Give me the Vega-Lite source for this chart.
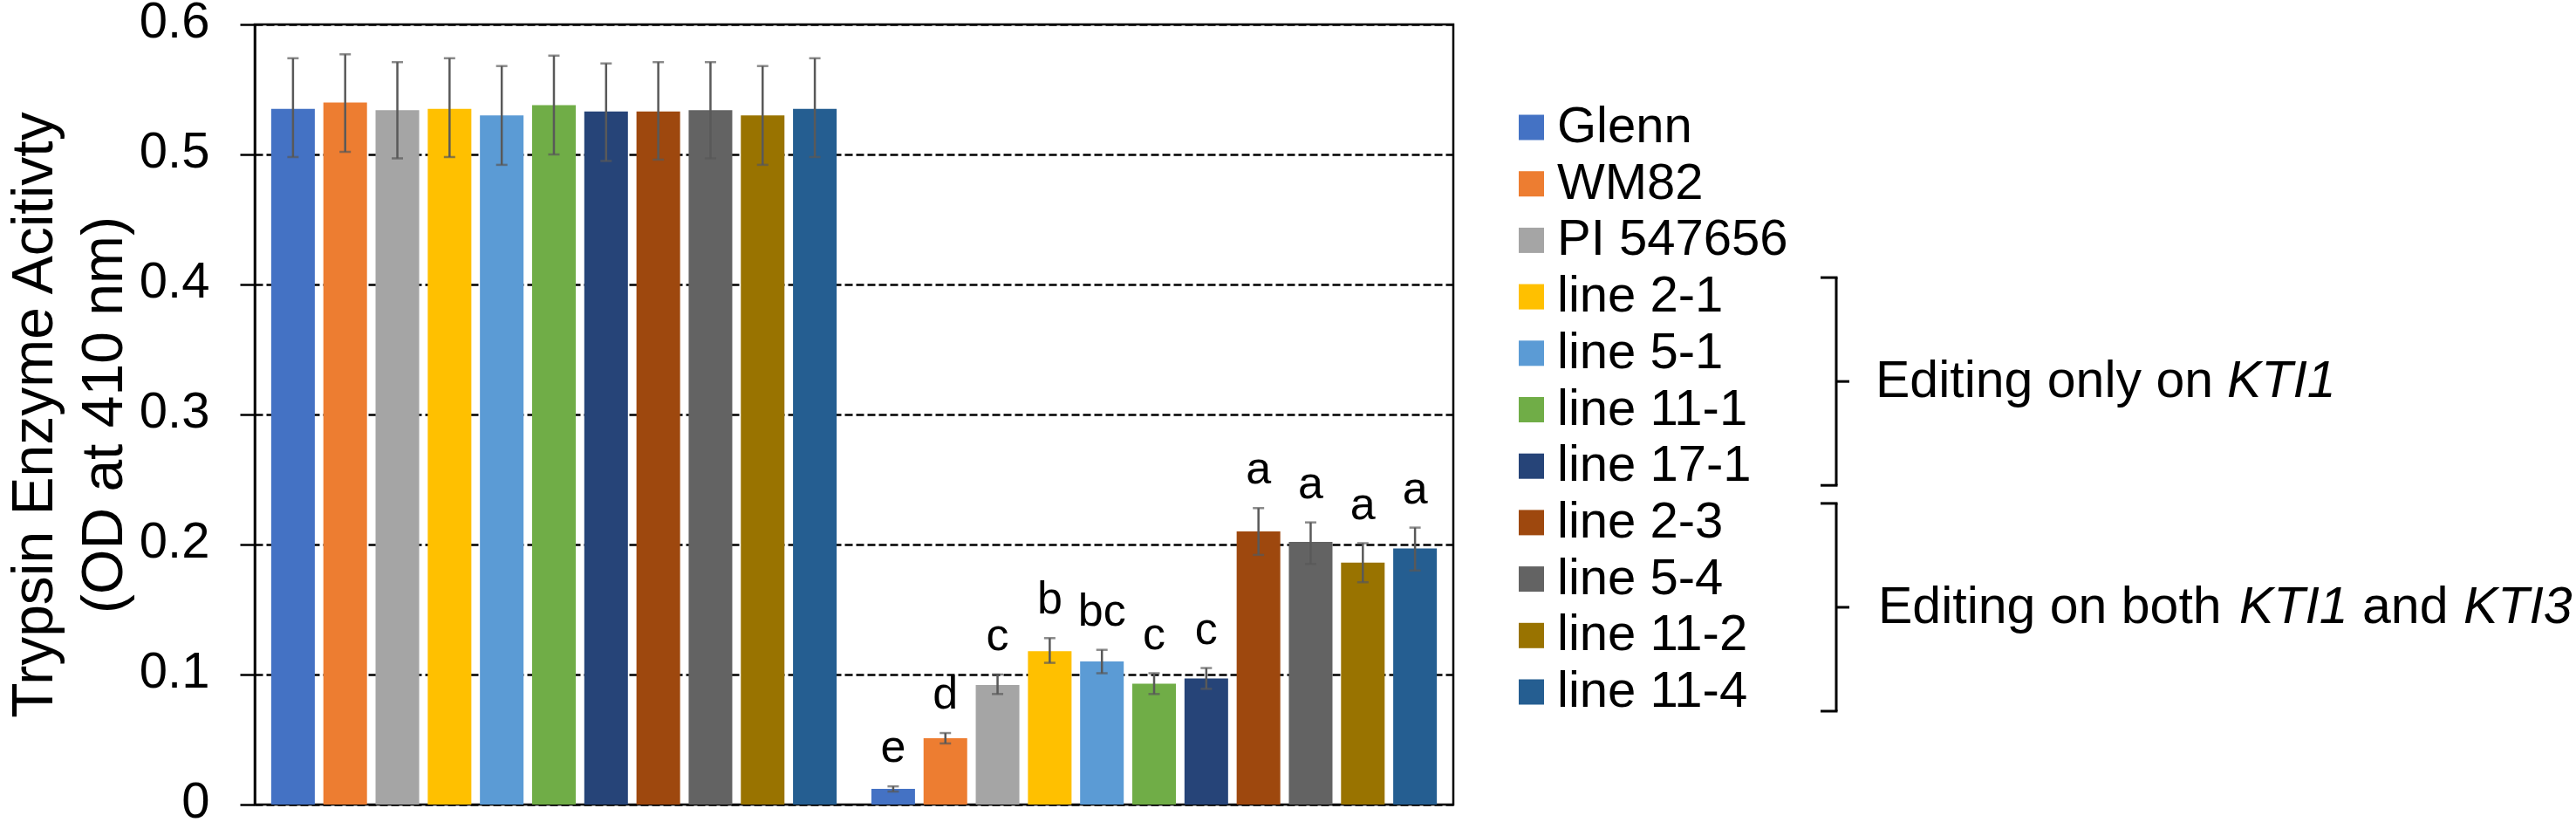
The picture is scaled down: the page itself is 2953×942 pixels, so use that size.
{
  "$schema": "https://vega.github.io/schema/vega-lite/v6.json",
  "background": "white",
  "padding": {"left": 5, "top": -6, "right": 0, "bottom": 0},
  "config": {
    "font": "Liberation Sans",
    "view": {"stroke": "black", "strokeWidth": 2.5}
  },
  "bounds": "flush",
  "spacing": 75,
  "datasets": {
    "bars": [
      {"group": "A", "variety": "Glenn", "mean": 0.535, "lo": 0.498, "hi": 0.574},
      {"group": "A", "variety": "WM82", "mean": 0.540, "lo": 0.502, "hi": 0.577},
      {"group": "A", "variety": "PI 547656", "mean": 0.534, "lo": 0.497, "hi": 0.571},
      {"group": "A", "variety": "line 2-1", "mean": 0.535, "lo": 0.498, "hi": 0.574},
      {"group": "A", "variety": "line 5-1", "mean": 0.530, "lo": 0.492, "hi": 0.568},
      {"group": "A", "variety": "line 11-1", "mean": 0.538, "lo": 0.500, "hi": 0.576},
      {"group": "A", "variety": "line 17-1", "mean": 0.533, "lo": 0.495, "hi": 0.570},
      {"group": "A", "variety": "line 2-3", "mean": 0.533, "lo": 0.496, "hi": 0.571},
      {"group": "A", "variety": "line 5-4", "mean": 0.534, "lo": 0.497, "hi": 0.571},
      {"group": "A", "variety": "line 11-2", "mean": 0.530, "lo": 0.492, "hi": 0.568},
      {"group": "A", "variety": "line 11-4", "mean": 0.535, "lo": 0.498, "hi": 0.574},
      {"group": "B", "variety": "Glenn", "mean": 0.012, "lo": 0.010, "hi": 0.014, "letter": "e"},
      {"group": "B", "variety": "WM82", "mean": 0.051, "lo": 0.047, "hi": 0.055, "letter": "d"},
      {"group": "B", "variety": "PI 547656", "mean": 0.092, "lo": 0.085, "hi": 0.100, "letter": "c"},
      {"group": "B", "variety": "line 2-1", "mean": 0.118, "lo": 0.109, "hi": 0.128, "letter": "b"},
      {"group": "B", "variety": "line 5-1", "mean": 0.110, "lo": 0.101, "hi": 0.119, "letter": "bc"},
      {"group": "B", "variety": "line 11-1", "mean": 0.093, "lo": 0.085, "hi": 0.101, "letter": "c"},
      {"group": "B", "variety": "line 17-1", "mean": 0.097, "lo": 0.089, "hi": 0.105, "letter": "c"},
      {"group": "B", "variety": "line 2-3", "mean": 0.210, "lo": 0.192, "hi": 0.228, "letter": "a"},
      {"group": "B", "variety": "line 5-4", "mean": 0.202, "lo": 0.185, "hi": 0.217, "letter": "a"},
      {"group": "B", "variety": "line 11-2", "mean": 0.186, "lo": 0.171, "hi": 0.201, "letter": "a"},
      {"group": "B", "variety": "line 11-4", "mean": 0.197, "lo": 0.180, "hi": 0.213, "letter": "a"}
    ],
    "legend": [
      {"variety": "Glenn", "rank": 0},
      {"variety": "WM82", "rank": 1},
      {"variety": "PI 547656", "rank": 2},
      {"variety": "line 2-1", "rank": 3},
      {"variety": "line 5-1", "rank": 4},
      {"variety": "line 11-1", "rank": 5},
      {"variety": "line 17-1", "rank": 6},
      {"variety": "line 2-3", "rank": 7},
      {"variety": "line 5-4", "rank": 8},
      {"variety": "line 11-2", "rank": 9},
      {"variety": "line 11-4", "rank": 10}
    ],
    "brackets": [
      {"note": "KTI1 only", "first": 3, "last": 6, "mid": 4.5},
      {"note": "KTI1 and KTI3", "first": 7, "last": 10, "mid": 8.5}
    ]
  },
  "hconcat": [
    {
      "width": 1374,
      "height": 894,
      "data": {"name": "bars"},
      "encoding": {
        "x": {"field": "group", "type": "nominal", "axis": null,
              "scale": {"paddingInner": 0.0436, "paddingOuter": 0.0203}},
        "xOffset": {"field": "variety", "type": "nominal",
                    "sort": ["Glenn", "WM82", "PI 547656", "line 2-1", "line 5-1", "line 11-1", "line 17-1", "line 2-3", "line 5-4", "line 11-2", "line 11-4"],
                    "scale": {"paddingInner": 0.164, "paddingOuter": 0.082}}
      },
      "layer": [
        {
          "mark": {"type": "bar"},
          "encoding": {
            "y": {"field": "mean", "type": "quantitative",
                  "scale": {"domain": [0, 0.6], "nice": false},
                  "axis": {
                    "title": ["Trypsin Enzyme Acitivty", "(OD at 410 nm)"],
                    "values": [0, 0.1, 0.2, 0.3, 0.4, 0.5, 0.6],
                    "format": ".1~f",
                    "labelFontSize": 58, "labelColor": "black", "labelPadding": 35, "labelOffset": -3,
                    "tickSize": 17, "tickWidth": 2.5, "tickColor": "black",
                    "domainColor": "black", "domainWidth": 2.5,
                    "grid": true, "gridColor": "black", "gridDash": [9, 4], "gridWidth": 2.5,
                    "titleFontSize": 66, "titleFontWeight": "normal", "titleColor": "black",
                    "titleLineHeight": 80, "titlePadding": 6
                  }},
            "color": {"field": "variety", "type": "nominal", "legend": null,
                      "scale": {
                        "domain": ["Glenn", "WM82", "PI 547656", "line 2-1", "line 5-1", "line 11-1", "line 17-1", "line 2-3", "line 5-4", "line 11-2", "line 11-4"],
                        "range": ["#4472C4", "#ED7D31", "#A5A5A5", "#FFC000", "#5B9BD5", "#70AD47", "#264478", "#9E480E", "#636363", "#997300", "#255E91"]
                      }}
          }
        },
        {
          "mark": {"type": "rule", "color": "#595959", "strokeWidth": 2.5},
          "encoding": {
            "y": {"field": "lo", "type": "quantitative"},
            "y2": {"field": "hi"}
          }
        },
        {
          "mark": {"type": "tick", "color": "#595959", "thickness": 2.5, "size": 13},
          "encoding": {"y": {"field": "lo", "type": "quantitative"}}
        },
        {
          "mark": {"type": "tick", "color": "#595959", "thickness": 2.5, "size": 13},
          "encoding": {"y": {"field": "hi", "type": "quantitative"}}
        },
        {
          "transform": [{"filter": "datum.letter"}],
          "mark": {"type": "text", "fontSize": 52, "color": "black", "baseline": "alphabetic", "dy": -28},
          "encoding": {
            "y": {"field": "hi", "type": "quantitative"},
            "text": {"field": "letter"}
          }
        }
      ]
    },
    {
      "width": 1200,
      "height": 894,
      "view": {"stroke": null},
      "layer": [
        {
          "data": {"name": "legend"},
          "mark": {"type": "square", "size": 841, "filled": true, "opacity": 1},
          "encoding": {
            "x": {"datum": 14.5, "type": "quantitative", "scale": {"domain": [0, 1200], "nice": false, "zero": false}, "axis": null},
            "y": {"field": "rank", "type": "quantitative", "scale": {"domain": [-1.824, 11.994], "reverse": true, "nice": false, "zero": false}, "axis": null},
            "color": {"field": "variety", "type": "nominal", "legend": null}
          }
        },
        {
          "data": {"name": "legend"},
          "mark": {"type": "text", "align": "left", "baseline": "middle", "fontSize": 58, "color": "black"},
          "encoding": {
            "x": {"datum": 44, "type": "quantitative"},
            "y": {"field": "rank", "type": "quantitative"},
            "text": {"field": "variety"}
          }
        },
        {
          "data": {"name": "brackets"},
          "mark": {"type": "rule", "color": "black", "strokeWidth": 3, "yOffset": -22, "y2Offset": 22},
          "encoding": {
            "x": {"datum": 364, "type": "quantitative"},
            "y": {"field": "first", "type": "quantitative"},
            "y2": {"field": "last"}
          }
        },
        {
          "data": {"name": "brackets"},
          "mark": {"type": "rule", "color": "black", "strokeWidth": 3, "yOffset": -22},
          "encoding": {
            "x": {"datum": 346, "type": "quantitative"},
            "x2": {"datum": 365.5},
            "y": {"field": "first", "type": "quantitative"}
          }
        },
        {
          "data": {"name": "brackets"},
          "mark": {"type": "rule", "color": "black", "strokeWidth": 3, "yOffset": 22},
          "encoding": {
            "x": {"datum": 346, "type": "quantitative"},
            "x2": {"datum": 365.5},
            "y": {"field": "last", "type": "quantitative"}
          }
        },
        {
          "data": {"name": "brackets"},
          "mark": {"type": "rule", "color": "black", "strokeWidth": 3},
          "encoding": {
            "x": {"datum": 364, "type": "quantitative"},
            "x2": {"datum": 379},
            "y": {"field": "mid", "type": "quantitative"}
          }
        },
        {
          "data": {"name": "brackets"},
          "transform": [{"filter": "datum.note == 'KTI1 only'"}],
          "mark": {"type": "text", "text": "Editing only on", "align": "left", "baseline": "middle", "fontSize": 59, "color": "black"},
          "encoding": {
            "x": {"datum": 409, "type": "quantitative"},
            "y": {"field": "mid", "type": "quantitative"}
          }
        },
        {
          "data": {"name": "brackets"},
          "transform": [{"filter": "datum.note == 'KTI1 only'"}],
          "mark": {"type": "text", "text": "KTI1", "fontStyle": "italic", "align": "left", "baseline": "middle", "fontSize": 59, "color": "black"},
          "encoding": {
            "x": {"datum": 812, "type": "quantitative"},
            "y": {"field": "mid", "type": "quantitative"}
          }
        },
        {
          "data": {"name": "brackets"},
          "transform": [{"filter": "datum.note == 'KTI1 and KTI3'"}],
          "mark": {"type": "text", "text": "Editing on both", "align": "left", "baseline": "middle", "fontSize": 59, "color": "black"},
          "encoding": {
            "x": {"datum": 412, "type": "quantitative"},
            "y": {"field": "mid", "type": "quantitative"}
          }
        },
        {
          "data": {"name": "brackets"},
          "transform": [{"filter": "datum.note == 'KTI1 and KTI3'"}],
          "mark": {"type": "text", "text": "KTI1", "fontStyle": "italic", "align": "left", "baseline": "middle", "fontSize": 59, "color": "black"},
          "encoding": {
            "x": {"datum": 826, "type": "quantitative"},
            "y": {"field": "mid", "type": "quantitative"}
          }
        },
        {
          "data": {"name": "brackets"},
          "transform": [{"filter": "datum.note == 'KTI1 and KTI3'"}],
          "mark": {"type": "text", "text": "and", "align": "left", "baseline": "middle", "fontSize": 59, "color": "black"},
          "encoding": {
            "x": {"datum": 967, "type": "quantitative"},
            "y": {"field": "mid", "type": "quantitative"}
          }
        },
        {
          "data": {"name": "brackets"},
          "transform": [{"filter": "datum.note == 'KTI1 and KTI3'"}],
          "mark": {"type": "text", "text": "KTI3", "fontStyle": "italic", "align": "left", "baseline": "middle", "fontSize": 59, "color": "black"},
          "encoding": {
            "x": {"datum": 1083, "type": "quantitative"},
            "y": {"field": "mid", "type": "quantitative"}
          }
        }
      ]
    }
  ]
}
